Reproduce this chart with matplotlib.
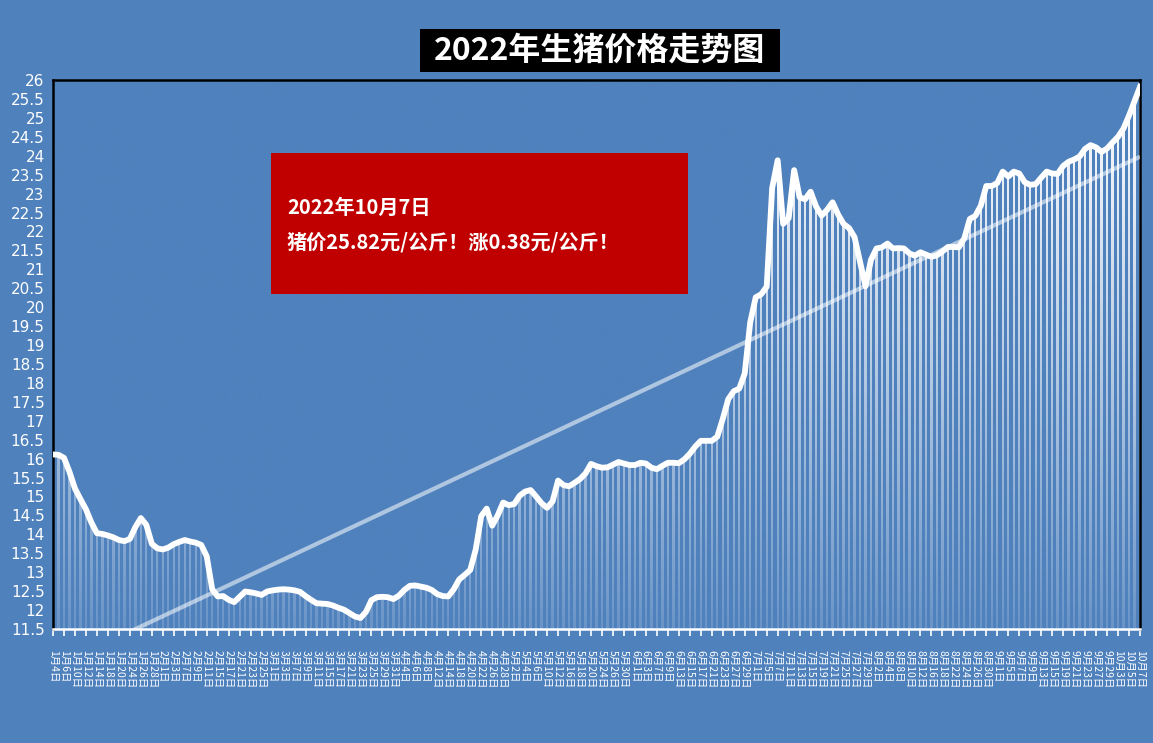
import numpy as np
import matplotlib
matplotlib.use('Agg')
import matplotlib.pyplot as plt
from matplotlib.patches import Rectangle

plt.rcParams['font.family'] = ['Noto Sans CJK SC', 'DejaVu Sans']

# 交易日（按月）
jan = [4, 5, 6, 7, 10, 11, 12, 13, 14, 17, 18, 19, 20, 21, 24, 25, 26, 27, 28, 31]
feb = [1, 2, 3, 4, 7, 8, 9, 10, 11, 14, 15, 16, 17, 18, 21, 22, 23, 24, 25, 28]
mar = [1, 2, 3, 4, 7, 8, 9, 10, 11, 14, 15, 16, 17, 18, 21, 22, 23, 24, 25, 28, 29, 30, 31]
apr = [1, 4, 5, 6, 7, 8, 11, 12, 13, 14, 15, 18, 19, 20, 21, 22, 25, 26, 27, 28, 29]
may = [2, 3, 4, 5, 6, 9, 10, 11, 12, 13, 16, 17, 18, 19, 20, 23, 24, 25, 26, 27, 30, 31]
jun = [1, 2, 3, 6, 7, 8, 9, 10, 13, 14, 15, 16, 17, 20, 21, 22, 23, 24, 27, 28, 29, 30]
jul = [1, 4, 5, 6, 7, 8, 11, 12, 13, 14, 15, 18, 19, 20, 21, 22, 25, 26, 27, 28, 29]
aug = [1, 2, 3, 4, 5, 8, 9, 10, 11, 12, 15, 16, 17, 18, 19, 22, 23, 24, 25, 26, 29, 30, 31]
sep = [1, 2, 5, 6, 7, 8, 9, 12, 13, 14, 15, 16, 19, 20, 21, 22, 23, 26, 27, 28, 29, 30]
octo = [3, 4, 5, 6, 7]
month_days = [jan, feb, mar, apr, may, jun, jul, aug, sep, octo]

# 生猪价格 元/公斤
prices = [
    16.11, 16.10, 16.02, 15.65, 15.21, 14.93, 14.66, 14.31, 14.03, 14.01,
    13.97, 13.92, 13.85, 13.82, 13.88, 14.19, 14.43, 14.25, 13.75, 13.63,
    13.60, 13.65, 13.74, 13.80, 13.85, 13.81, 13.78, 13.72, 13.42, 12.55,
    12.36, 12.37, 12.27, 12.21, 12.35, 12.49, 12.47, 12.44, 12.40, 12.49,
    12.52, 12.54, 12.55, 12.54, 12.52, 12.48, 12.37, 12.27, 12.18, 12.17,
    12.16, 12.12, 12.06, 12.01, 11.92, 11.83, 11.79, 11.95, 12.26, 12.34,
    12.35, 12.34, 12.29, 12.38, 12.53, 12.64, 12.65, 12.62, 12.59, 12.53,
    12.42, 12.37, 12.36, 12.55, 12.81, 12.93, 13.06, 13.60, 14.48, 14.68,
    14.23, 14.50, 14.84, 14.77, 14.80, 15.02, 15.13, 15.17, 15.00, 14.82,
    14.70, 14.87, 15.42, 15.30, 15.27, 15.36, 15.46, 15.61, 15.86, 15.80,
    15.76, 15.77, 15.84, 15.91, 15.87, 15.83, 15.83, 15.89, 15.87, 15.76,
    15.72, 15.81, 15.89, 15.89, 15.88, 15.98, 16.13, 16.32, 16.47, 16.47,
    16.47, 16.58, 17.05, 17.57, 17.78, 17.85, 18.25, 19.60, 20.26, 20.34,
    20.54, 23.15, 23.88, 22.20, 22.35, 23.62, 22.90, 22.85, 23.05, 22.66,
    22.42, 22.57, 22.77, 22.45, 22.20, 22.09, 21.85, 21.20, 20.55, 21.25,
    21.55, 21.58, 21.68, 21.55, 21.56, 21.55, 21.42, 21.36, 21.45, 21.39,
    21.33, 21.37, 21.47, 21.59, 21.59, 21.58, 21.82, 22.33, 22.41, 22.68,
    23.20, 23.20, 23.28, 23.58, 23.45, 23.58, 23.53, 23.30, 23.23, 23.25,
    23.42, 23.58, 23.53, 23.52, 23.73, 23.84, 23.90, 23.98, 24.18, 24.28,
    24.22, 24.10, 24.19, 24.35, 24.50, 24.72, 25.06, 25.44, 25.82,
]

y_ticks = [11.5 + 0.5 * k for k in range(30)]
title_text = '2022年生猪价格走势图'
note_line1 = '2022年10月7日'
note_line2 = '猪价25.82元/公斤！涨0.38元/公斤！'

dates = [f'{m}月{d}日' for m, days in enumerate(month_days, start=1) for d in days]
n = min(len(dates), len(prices))
dates = dates[:n]
prices = np.array(prices[:n])
x = np.arange(n)

bg = '#4F81BD'
W, H = 1153, 743
fig = plt.figure(figsize=(W / 100, H / 100), dpi=100, facecolor=bg)
ax = fig.add_axes([53 / W, 1 - 629 / H, (1140 - 53) / W, (629 - 80) / H])
ax.set_facecolor(bg)

ymin, ymax = 11.5, 26
ax.bar(x, prices - ymin, bottom=ymin, width=0.42, color='white', zorder=1)

# 柱子由上到下渐隐
grad = np.zeros((256, 1, 4))
grad[:, 0, :3] = matplotlib.colors.to_rgb(bg)
grad[:, 0, 3] = 0.85 * np.linspace(0, 1, 256) ** 1.1
ax.imshow(grad, extent=[-1, n, ymin, ymax], aspect='auto', zorder=2,
          interpolation='bilinear', origin='upper')

# 线性趋势线
k, b = np.polyfit(x, prices, 1)
ax.plot(x, k * x + b, color='white', alpha=0.55, lw=3, zorder=3, solid_capstyle='butt')

ax.plot(x, prices, color='white', lw=4.2, zorder=4, solid_joinstyle='round')

ax.set_xlim(0, n - 1)
ax.set_ylim(ymin, ymax)
ax.set_yticks(y_ticks)
ax.set_yticklabels([f'{v:g}' for v in y_ticks], color='white', fontsize=11,
                   family='DejaVu Sans')
ax.tick_params(axis='y', length=0, pad=6)

tick_idx = x[::2]
ax.set_xticks(tick_idx)
ax.set_xticklabels([dates[i] for i in tick_idx], rotation=270, fontsize=7.5,
                   color='white')
ax.tick_params(axis='x', direction='out', length=5, width=1.2, color='white', pad=10)

for side in ['left', 'top', 'right']:
    ax.spines[side].set_color('black')
    ax.spines[side].set_linewidth(1.8)
ax.spines['bottom'].set_color('white')
ax.spines['bottom'].set_linewidth(1.8)

# 标题
fig.patches.append(Rectangle((420 / W, 1 - 72 / H), 360 / W, 43 / H,
                             transform=fig.transFigure, facecolor='black',
                             edgecolor='none', zorder=5))
fig.text(600 / W, 1 - 50.5 / H, title_text, color='white', fontsize=23,
         fontweight='bold', ha='center', va='center', zorder=6)

# 红色注释框
fig.patches.append(Rectangle((271 / W, 1 - 294 / H), 417 / W, 141 / H,
                             transform=fig.transFigure, facecolor='#C00000',
                             edgecolor='none', zorder=5))
fig.text(287 / W, 1 - 207 / H, note_line1, color='white', fontsize=14.5,
         fontweight='bold', ha='left', va='center', zorder=6)
fig.text(287 / W, 1 - 242 / H, note_line2, color='white', fontsize=14.5,
         fontweight='bold', ha='left', va='center', zorder=6)

fig.savefig('out.png', dpi=100, facecolor=bg)
